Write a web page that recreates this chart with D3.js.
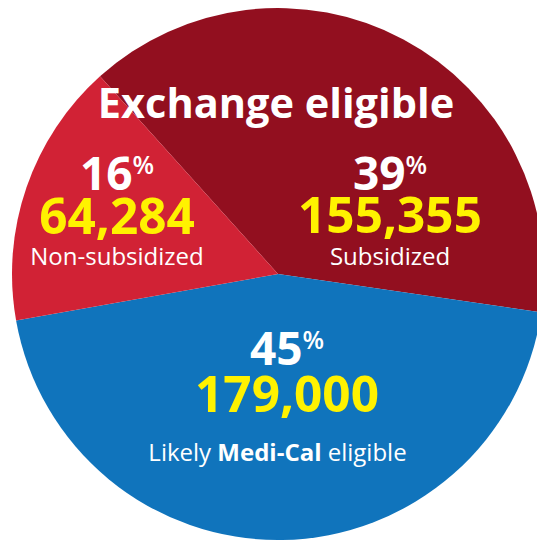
<!DOCTYPE html>
<html>
<head>
<meta charset="utf-8">
<script src="https://cdn.jsdelivr.net/npm/d3@7"></script>
<style>
  html, body { margin: 0; padding: 0; background: #ffffff; }
  svg { display: block; }
  text { font-family: "Open Sans", "Noto Sans", sans-serif; }
</style>
</head>
<body>
<svg id="chart" width="537" height="542"></svg>
<script>
// Coverage groups, clockwise from the upper left
const groups = ["Subsidized", "Likely Medi-Cal eligible", "Non-subsidized"];
const counts = [155355, 179000, 64284];
const percents = [39, 45, 16];
const colors = ["#920f1f", "#1074bc", "#d12235"];
const headline = "Exchange eligible";

const width = 537, height = 542;
const cx = 278, cy = 274, radius = 266;
const startAngle = -42 * Math.PI / 180;

const svg = d3.select("#chart");
const g = svg.append("g").attr("transform", `translate(${cx},${cy})`);

const pie = d3.pie()
  .sort(null)
  .value(d => d)
  .startAngle(startAngle)
  .endAngle(startAngle + 2 * Math.PI);

const arc = d3.arc().innerRadius(0).outerRadius(radius);

const arcs = pie(counts);

g.selectAll("path.slice")
  .data(arcs)
  .join("path")
  .attr("class", "slice")
  .attr("d", arc)
  .attr("fill", (d, i) => colors[i]);

// Label block placement for each slice (offsets from the pie centre)
const labelPos = [
  { x: 112, pct: -84, num: -41, sub: -9 },
  { x: 9, pct: 91, num: 138, sub: 187 },
  { x: -161, pct: -84, num: -40, sub: -9 }
];
const subOffsetX = [0, -9.5, 0];
const fmt = d3.format(",");

// Headline across the two exchange slices
g.append("text")
  .attr("x", -2)
  .attr("y", -156)
  .attr("text-anchor", "middle")
  .attr("fill", "#ffffff")
  .attr("font-weight", 700)
  .attr("font-size", 41.5)
  .text(headline);

const labels = g.selectAll("g.label")
  .data(arcs)
  .join("g")
  .attr("class", "label");

// Percentage with a raised percent sign
const pctText = labels.append("text")
  .attr("x", (d, i) => labelPos[i].x)
  .attr("y", (d, i) => labelPos[i].pct)
  .attr("text-anchor", "middle")
  .attr("fill", "#ffffff")
  .attr("font-weight", 700);
pctText.append("tspan")
  .attr("font-size", 46)
  .text((d, i) => percents[i]);
pctText.append("tspan")
  .attr("font-size", 25)
  .attr("font-weight", 600)
  .attr("dy", -16)
  .text("%");

// Head-count
labels.append("text")
  .attr("x", (d, i) => labelPos[i].x)
  .attr("y", (d, i) => labelPos[i].num)
  .attr("text-anchor", "middle")
  .attr("fill", "#fff200")
  .attr("font-weight", 700)
  .attr("font-size", 49.5)
  .text(d => fmt(d.data));

// Group name
const sub = labels.append("text")
  .attr("x", (d, i) => labelPos[i].x + subOffsetX[i])
  .attr("y", (d, i) => labelPos[i].sub)
  .attr("text-anchor", "middle")
  .attr("fill", "#ffffff")
  .attr("font-size", 24);

sub.each(function(d, i) {
  const t = d3.select(this);
  if (groups[i] === "Likely Medi-Cal eligible") {
    t.append("tspan").text("Likely ");
    t.append("tspan").attr("font-weight", 700).text("Medi-Cal");
    t.append("tspan").text(" eligible");
  } else {
    t.text(groups[i]);
  }
});
</script>
</body>
</html>
